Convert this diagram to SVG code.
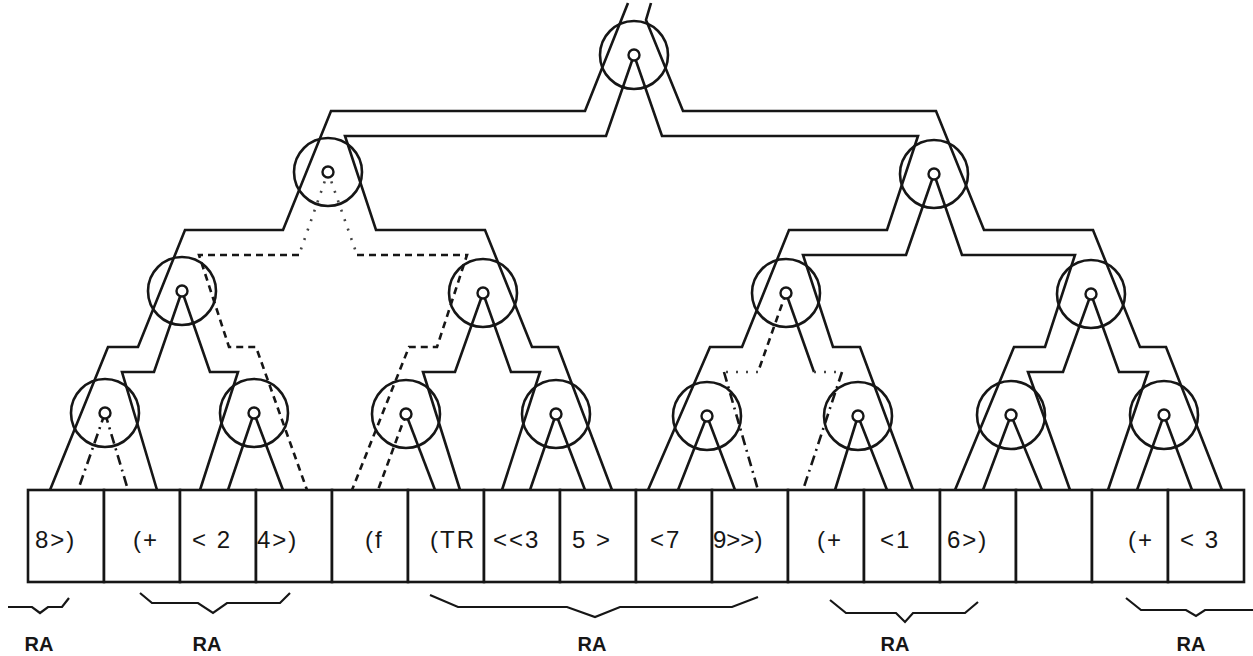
<svg xmlns="http://www.w3.org/2000/svg" width="1253" height="656" viewBox="0 0 1253 656">
<style>
.w{fill:none;stroke:#161616;stroke-width:2.6;stroke-linejoin:miter;stroke-linecap:butt}
.dd{stroke-dasharray:10 5 2 5}
.ds{stroke-dasharray:7 5}
.dot{stroke-dasharray:2 8;stroke:#444}
.big{fill:none;stroke:#161616;stroke-width:2.6}
.sm{fill:#fff;stroke:#161616;stroke-width:2.4}
.box{fill:#fff;stroke:#161616;stroke-width:2.6}
.t{font-family:"Liberation Sans",Arial,sans-serif;font-size:24px;letter-spacing:2px;fill:#161616}
.ra{font-family:"Liberation Sans",Arial,sans-serif;font-size:20px;font-weight:bold;fill:#161616}
.br{fill:none;stroke:#161616;stroke-width:2.2}
</style>
<rect width="1253" height="656" fill="#fff"/>
<g id="connectors">
<path class="w" d="M628,3 L585,111 L331,111 L283,230 L185,230 L138,347 L108,347 L50,490"/>
<path class="w" d="M651,3 L646,20 L683,111 L936,111 L984,230 L1093,230 L1140,347 L1166,347 L1222,490"/>
<path class="w" d="M634,55 L606,136 L345,136 L376,230 L485,230 L532,347 L558,347 L612,490"/>
<path class="w" d="M634,55 L662,136 L918,136 L887,230 L789,230 L742,347 L710,347 L648,490"/>
<path class="w dot" d="M328,172 L299,255"/>
<path class="w ds" d="M299,255 L199,255 L229,347 L256,347 L307,490"/>
<path class="w dot" d="M328,172 L357,255"/>
<path class="w ds" d="M357,255 L467,255 L437,347 L409,347 L352,490"/>
<path class="w" d="M934,174 L906,255 L803,255 L833,347 L860,347 L913,490"/>
<path class="w" d="M934,174 L962,255 L1075,255 L1045,347 L1014,347 L955,490"/>
<path class="w" d="M182,291 L154,372 L122,372 L157,490"/>
<path class="w" d="M182,291 L210,372 L238,372 L200,490"/>
<path class="w" d="M483,293 L455,372 L423,372 L460,490"/>
<path class="w" d="M483,293 L511,372 L540,372 L502,490"/>
<path class="w ds" d="M786,293 L758,372"/>
<path class="w dot" d="M758,372 L724,372"/>
<path class="w dd" d="M724,372 L758,490"/>
<path class="w" d="M786,293 L814,372"/>
<path class="w dot" d="M814,372 L842,372"/>
<path class="w dd" d="M842,372 L803,490"/>
<path class="w" d="M1091,294 L1063,372 L1028,372 L1070,490"/>
<path class="w" d="M1091,294 L1119,372 L1148,372 L1108,490"/>
<path class="w dd" d="M105,413 L78,490"/>
<path class="w dd" d="M105,413 L128,490"/>
<path class="w" d="M254,413 L228,490 M254,413 L283,490"/>
<path class="w ds" d="M406,414 L378,490"/>
<path class="w" d="M406,414 L435,490"/>
<path class="w" d="M556,414 L530,490 M556,414 L585,490"/>
<path class="w" d="M707,416 L678,490 M707,416 L735,490"/>
<path class="w" d="M858,416 L835,490 M858,416 L887,490"/>
<path class="w" d="M1011,415 L983,490 M1011,415 L1042,490"/>
<path class="w" d="M1164,415 L1137,490 M1164,415 L1192,490"/>
</g>
<g id="node-root"><circle class="big" cx="634" cy="55" r="34"/><circle class="sm" cx="634" cy="55" r="5.5"/></g>
<g id="node-l1a"><circle class="big" cx="328" cy="172" r="34"/><circle class="sm" cx="328" cy="172" r="5.5"/></g>
<g id="node-l1b"><circle class="big" cx="934" cy="174" r="34"/><circle class="sm" cx="934" cy="174" r="5.5"/></g>
<g id="node-l2a"><circle class="big" cx="182" cy="291" r="34"/><circle class="sm" cx="182" cy="291" r="5.5"/></g>
<g id="node-l2b"><circle class="big" cx="483" cy="293" r="34"/><circle class="sm" cx="483" cy="293" r="5.5"/></g>
<g id="node-l2c"><circle class="big" cx="786" cy="293" r="34"/><circle class="sm" cx="786" cy="293" r="5.5"/></g>
<g id="node-l2d"><circle class="big" cx="1091" cy="294" r="34"/><circle class="sm" cx="1091" cy="294" r="5.5"/></g>
<g id="node-l3a"><circle class="big" cx="105" cy="413" r="34"/><circle class="sm" cx="105" cy="413" r="5.5"/></g>
<g id="node-l3b"><circle class="big" cx="254" cy="413" r="34"/><circle class="sm" cx="254" cy="413" r="5.5"/></g>
<g id="node-l3c"><circle class="big" cx="406" cy="414" r="34"/><circle class="sm" cx="406" cy="414" r="5.5"/></g>
<g id="node-l3d"><circle class="big" cx="556" cy="414" r="34"/><circle class="sm" cx="556" cy="414" r="5.5"/></g>
<g id="node-l3e"><circle class="big" cx="707" cy="416" r="34"/><circle class="sm" cx="707" cy="416" r="5.5"/></g>
<g id="node-l3f"><circle class="big" cx="858" cy="416" r="34"/><circle class="sm" cx="858" cy="416" r="5.5"/></g>
<g id="node-l3g"><circle class="big" cx="1011" cy="415" r="34"/><circle class="sm" cx="1011" cy="415" r="5.5"/></g>
<g id="node-l3h"><circle class="big" cx="1164" cy="415" r="34"/><circle class="sm" cx="1164" cy="415" r="5.5"/></g>
<g id="cells">
<g id="cell-0"><rect class="box" x="28" y="490" width="76" height="92"/><text class="t" x="35" y="548">8&gt;)</text></g>
<g id="cell-1"><rect class="box" x="104" y="490" width="76" height="92"/><text class="t" x="133" y="548">(+</text></g>
<g id="cell-2"><rect class="box" x="180" y="490" width="76" height="92"/><text class="t" x="192" y="548">&lt; 2</text></g>
<g id="cell-3"><rect class="box" x="256" y="490" width="76" height="92"/><text class="t" x="257" y="548">4&gt;)</text></g>
<g id="cell-4"><rect class="box" x="332" y="490" width="76" height="92"/><text class="t" x="365" y="548">(f</text></g>
<g id="cell-5"><rect class="box" x="408" y="490" width="76" height="92"/><text class="t" x="430" y="548">(TR</text></g>
<g id="cell-6"><rect class="box" x="484" y="490" width="76" height="92"/><text class="t" x="493" y="548">&lt;&lt;3</text></g>
<g id="cell-7"><rect class="box" x="560" y="490" width="76" height="92"/><text class="t" x="572" y="548">5 &gt;</text></g>
<g id="cell-8"><rect class="box" x="636" y="490" width="76" height="92"/><text class="t" x="650" y="548">&lt;7</text></g>
<g id="cell-9"><rect class="box" x="712" y="490" width="76" height="92"/><text class="t" x="713" y="548" style="letter-spacing:0">9&gt;&gt;)</text></g>
<g id="cell-10"><rect class="box" x="788" y="490" width="76" height="92"/><text class="t" x="817" y="548">(+</text></g>
<g id="cell-11"><rect class="box" x="864" y="490" width="76" height="92"/><text class="t" x="880" y="548">&lt;1</text></g>
<g id="cell-12"><rect class="box" x="940" y="490" width="76" height="92"/><text class="t" x="947" y="548">6&gt;)</text></g>
<g id="cell-13"><rect class="box" x="1016" y="490" width="76" height="92"/></g>
<g id="cell-14"><rect class="box" x="1092" y="490" width="76" height="92"/><text class="t" x="1128" y="548">(+</text></g>
<g id="cell-15"><rect class="box" x="1168" y="490" width="76" height="92"/><text class="t" x="1180" y="548">&lt; 3</text></g>
</g>
<g id="braces">
<path class="br" d="M8,607 L32,607 L40,613 L48,607 L62,607 L69,598"/>
<path class="br" d="M140,593 L152,603 L198,603 L213,613 L227,603 L280,603 L290,593"/>
<path class="br" d="M430,595 L458,607 L567,607 L595,617 L620,607 L732,607 L758,597"/>
<path class="br" d="M830,600 L846,613 L896,613 L905,622 L913,613 L965,613 L978,602"/>
<path class="br" d="M1126,598 L1141,610 L1186,610 L1196,616 L1205,610 L1253,610"/>
<text class="ra" x="39" y="651" text-anchor="middle">RA</text>
<text class="ra" x="207" y="651" text-anchor="middle">RA</text>
<text class="ra" x="592" y="651" text-anchor="middle">RA</text>
<text class="ra" x="895" y="651" text-anchor="middle">RA</text>
<text class="ra" x="1191" y="651" text-anchor="middle">RA</text>
</g>
</svg>
